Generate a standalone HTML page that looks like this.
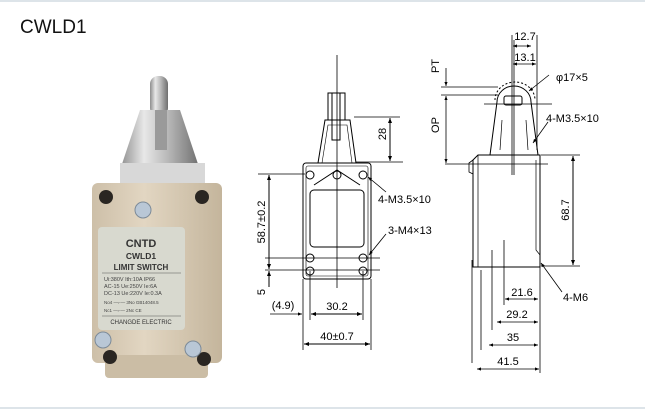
<!DOCTYPE html>
<html><head><meta charset="utf-8"><style>
html,body{margin:0;padding:0;background:#fff;width:645px;height:409px;overflow:hidden}
svg{display:block}
text{font-family:"Liberation Sans",Arial,sans-serif}
</style></head><body>
<svg width="645" height="409" viewBox="0 0 645 409" xmlns="http://www.w3.org/2000/svg">
<defs>
<marker id="a" viewBox="0 0 10 10" refX="10" refY="5" markerWidth="7" markerHeight="5" orient="auto-start-reverse"><path d="M0,1 L10,5 L0,9 z" fill="#000"/></marker>
<linearGradient id="met" x1="0" x2="1"><stop offset="0" stop-color="#8d8d8d"/><stop offset="0.3" stop-color="#e8e8e8"/><stop offset="0.6" stop-color="#b8b8b8"/><stop offset="1" stop-color="#6e6e6e"/></linearGradient>
<linearGradient id="bg" x1="0" x2="1"><stop offset="0" stop-color="#cdbfa8"/><stop offset="0.4" stop-color="#e2d6c2"/><stop offset="1" stop-color="#c4b59c"/></linearGradient>
</defs>
<rect x="0" y="0" width="645" height="2" fill="#dde4e9"/>
<rect x="0" y="407" width="645" height="2" fill="#dde4e9"/>
<text x="20" y="33" font-size="19" fill="#111">CWLD1</text>

<!-- photo -->
<rect x="150" y="76" width="18" height="40" rx="8" fill="url(#met)"/>
<path d="M140,110 L180,110 L200,170 L120,170 Z" fill="url(#met)"/>
<rect x="155" y="110" width="12" height="40" fill="#9a9a9a"/>
<rect x="120" y="163" width="85" height="22" fill="#d8d8d8"/>
<rect x="92" y="183" width="130" height="180" rx="6" fill="url(#bg)"/>
<rect x="105" y="355" width="103" height="23" rx="4" fill="#cbbda5"/>
<rect x="98" y="227" width="87" height="103" rx="4" fill="#d8d9cf"/>
<circle cx="106" cy="197" r="7" fill="#2a2622"/><circle cx="202" cy="197" r="7" fill="#2a2622"/>
<circle cx="110" cy="357" r="7" fill="#2a2622"/><circle cx="204" cy="359" r="7" fill="#2a2622"/>
<circle cx="143" cy="210" r="8" fill="#b9c7d6" stroke="#7c8a98"/>
<circle cx="103" cy="340" r="8" fill="#b9c7d6" stroke="#7c8a98"/>
<circle cx="193" cy="349" r="8" fill="#b9c7d6" stroke="#7c8a98"/>
<text x="141" y="247" font-size="11" font-weight="bold" text-anchor="middle" fill="#333">CNTD</text>
<text x="141" y="259" font-size="8.5" font-weight="bold" text-anchor="middle" fill="#333">CWLD1</text>
<text x="141" y="270" font-size="8" font-weight="bold" text-anchor="middle" fill="#333">LIMIT SWITCH</text>
<line x1="102" y1="273" x2="181" y2="273" stroke="#555" stroke-width="0.6"/>
<text x="104" y="281" font-size="5.5" fill="#444">Ui:380V  Ith:10A  IP66</text>
<text x="104" y="288" font-size="5.5" fill="#444">AC-15   Ue:250V Ie:6A</text>
<text x="104" y="295" font-size="5.5" fill="#444">DC-13   Ue:220V Ie:0.3A</text>
<text x="104" y="304" font-size="4.5" fill="#444">No4 —⌐— 3No   GB14048.5</text>
<text x="104" y="312" font-size="4.5" fill="#444">Nc1 —⌐— 2Nc       CE</text>
<line x1="102" y1="316" x2="181" y2="316" stroke="#555" stroke-width="0.6"/>
<text x="141" y="324" font-size="6" text-anchor="middle" fill="#333">CHANGDE ELECTRIC</text>

<g stroke="#000" stroke-width="1" fill="none">
<!-- left drawing -->
<line x1="337" y1="55" x2="337" y2="288" stroke-width="0.8"/>
<path d="M318,163 L325,120 L350,120 L356,163"/>
<path d="M322,163 L328,125 L347,125 L352,163" stroke-width="0.6"/>
<rect x="328" y="93" width="17" height="27"/>
<rect x="332" y="93" width="8" height="47"/>
<rect x="303" y="163" width="68" height="116" rx="3"/>
<rect x="306" y="166" width="62" height="110" rx="2" stroke-width="0.6"/>
<rect x="310" y="190" width="54" height="57" rx="4"/>
<path d="M314,185 L337,170 L360,185" />
<circle cx="310" cy="175" r="4"/><circle cx="337" cy="175" r="4"/><circle cx="363" cy="175" r="4"/>
<circle cx="310" cy="258" r="4"/><circle cx="363" cy="258" r="4"/>
<circle cx="310" cy="271" r="4"/><circle cx="363" cy="271" r="4"/>
<line x1="354" y1="117" x2="400" y2="117" stroke-width="0.8"/>
<line x1="356" y1="162" x2="403" y2="162" stroke-width="0.8"/>
<line x1="390" y1="118" x2="390" y2="161" marker-start="url(#a)" marker-end="url(#a)"/>
<line x1="258" y1="174" x2="305" y2="174" stroke-width="0.8"/>
<line x1="265" y1="258" x2="380" y2="258" stroke-width="0.8"/>
<line x1="265" y1="270" x2="380" y2="270" stroke-width="0.8"/>
<line x1="269" y1="175" x2="269" y2="269" marker-start="url(#a)" marker-end="url(#a)"/>
<line x1="269" y1="287" x2="269" y2="271" marker-end="url(#a)"/>
<line x1="303" y1="279" x2="303" y2="350" stroke-width="0.8"/>
<line x1="371" y1="279" x2="371" y2="350" stroke-width="0.8"/>
<line x1="310" y1="271" x2="310" y2="320" stroke-width="0.8"/>
<line x1="363" y1="271" x2="363" y2="320" stroke-width="0.8"/>
<line x1="270" y1="314" x2="302" y2="314" marker-end="url(#a)" stroke-width="0.8"/>
<line x1="311" y1="314" x2="362" y2="314" marker-start="url(#a)" marker-end="url(#a)"/>
<line x1="304" y1="344" x2="370" y2="344" marker-start="url(#a)" marker-end="url(#a)"/>
<line x1="386" y1="192" x2="368" y2="177" marker-end="url(#a)" stroke-width="0.8"/>
<line x1="386" y1="234" x2="369" y2="255" marker-end="url(#a)" stroke-width="0.8"/>

<!-- right drawing -->
<line x1="512" y1="35" x2="512" y2="175" stroke-width="0.8"/>
<line x1="537" y1="35" x2="537" y2="150" stroke-width="0.8"/>
<line x1="514" y1="40" x2="514" y2="175" stroke-width="0.8"/>
<line x1="513" y1="46" x2="531" y2="46" marker-start="url(#a)" marker-end="url(#a)" stroke-width="0.8"/>
<line x1="513" y1="64" x2="536" y2="64" marker-start="url(#a)" marker-end="url(#a)" stroke-width="0.8"/>
<path d="M495,100 A20,18 0 0 1 535,100" stroke-dasharray="2,2"/>
<path d="M497,102 A17,16 0 0 1 531,102"/>
<rect x="504" y="96" width="18" height="9" rx="2"/>
<path d="M497,102 L490,155 M531,102 L538,155"/>
<path d="M502,120 L500,150 M526,120 L528,150" stroke-width="0.7"/>
<line x1="484" y1="104" x2="552" y2="104" stroke-width="0.8"/>
<path d="M473,160 L473,267 L540,267 L540,155 L478,155 Z"/>
<path d="M478,155 L478,267 M536,160 L536,250 L540,255" stroke-width="0.7"/>
<path d="M473,160 L469,163 L469,172 L473,174" stroke-width="0.8"/>
<line x1="441" y1="87" x2="498" y2="87" stroke-width="0.8"/>
<line x1="441" y1="95" x2="498" y2="95" stroke-width="0.8"/>
<line x1="445" y1="164" x2="548" y2="164" stroke-width="0.8"/>
<line x1="446" y1="68" x2="446" y2="86" marker-end="url(#a)" stroke-width="0.8"/>
<line x1="446" y1="96" x2="446" y2="163" marker-start="url(#a)" marker-end="url(#a)" stroke-width="0.8"/>
<line x1="541" y1="155" x2="580" y2="155" stroke-width="0.8"/>
<line x1="541" y1="266" x2="580" y2="266" stroke-width="0.8"/>
<line x1="573" y1="156" x2="573" y2="265" marker-start="url(#a)" marker-end="url(#a)"/>
<line x1="472" y1="260" x2="472" y2="363" stroke-width="0.8"/>
<line x1="481" y1="270" x2="481" y2="350" stroke-width="0.8"/>
<line x1="492" y1="250" x2="492" y2="330" stroke-width="0.8"/>
<line x1="504" y1="240" x2="504" y2="305" stroke-width="0.8"/>
<line x1="540" y1="267" x2="540" y2="373" stroke-width="0.8"/>
<line x1="505" y1="299" x2="538" y2="299" marker-start="url(#a)" marker-end="url(#a)" stroke-width="0.8"/>
<line x1="497" y1="322" x2="538" y2="322" marker-start="url(#a)" marker-end="url(#a)" stroke-width="0.8"/>
<line x1="489" y1="345" x2="538" y2="345" marker-start="url(#a)" marker-end="url(#a)" stroke-width="0.8"/>
<line x1="477" y1="369" x2="539" y2="369" marker-start="url(#a)" marker-end="url(#a)" stroke-width="0.8"/>
<line x1="549" y1="75" x2="529" y2="91" marker-end="url(#a)" stroke-width="0.8"/>
<line x1="548" y1="122" x2="533" y2="143" marker-end="url(#a)" stroke-width="0.8"/>
<line x1="562" y1="292" x2="541" y2="263" marker-end="url(#a)" stroke-width="0.8"/>
</g>
<g font-size="11" fill="#000">
<text x="386" y="134" transform="rotate(-90 386 134)" text-anchor="middle">28</text>
<text x="265" y="222" transform="rotate(-90 265 222)" text-anchor="middle">58.7±0.2</text>
<text x="265" y="292" transform="rotate(-90 265 292)" text-anchor="middle">5</text>
<text x="283" y="309" text-anchor="middle">(4.9)</text>
<text x="337" y="310" text-anchor="middle">30.2</text>
<text x="337" y="340" text-anchor="middle">40±0.7</text>
<text x="378" y="203">4-M3.5×10</text>
<text x="388" y="234">3-M4×13</text>
<text x="525" y="40" text-anchor="middle">12.7</text>
<text x="525" y="61" text-anchor="middle">13.1</text>
<text x="556" y="81">φ17×5</text>
<text x="546" y="122">4-M3.5×10</text>
<text x="569" y="210" transform="rotate(-90 569 210)" text-anchor="middle">68.7</text>
<text x="439" y="66" transform="rotate(-90 439 66)" text-anchor="middle">PT</text>
<text x="439" y="125" transform="rotate(-90 439 125)" text-anchor="middle">OP</text>
<text x="522" y="296" text-anchor="middle">21.6</text>
<text x="517" y="318" text-anchor="middle">29.2</text>
<text x="513" y="341" text-anchor="middle">35</text>
<text x="508" y="365" text-anchor="middle">41.5</text>
<text x="563" y="301">4-M6</text>
</g>
</svg>
</body></html>
